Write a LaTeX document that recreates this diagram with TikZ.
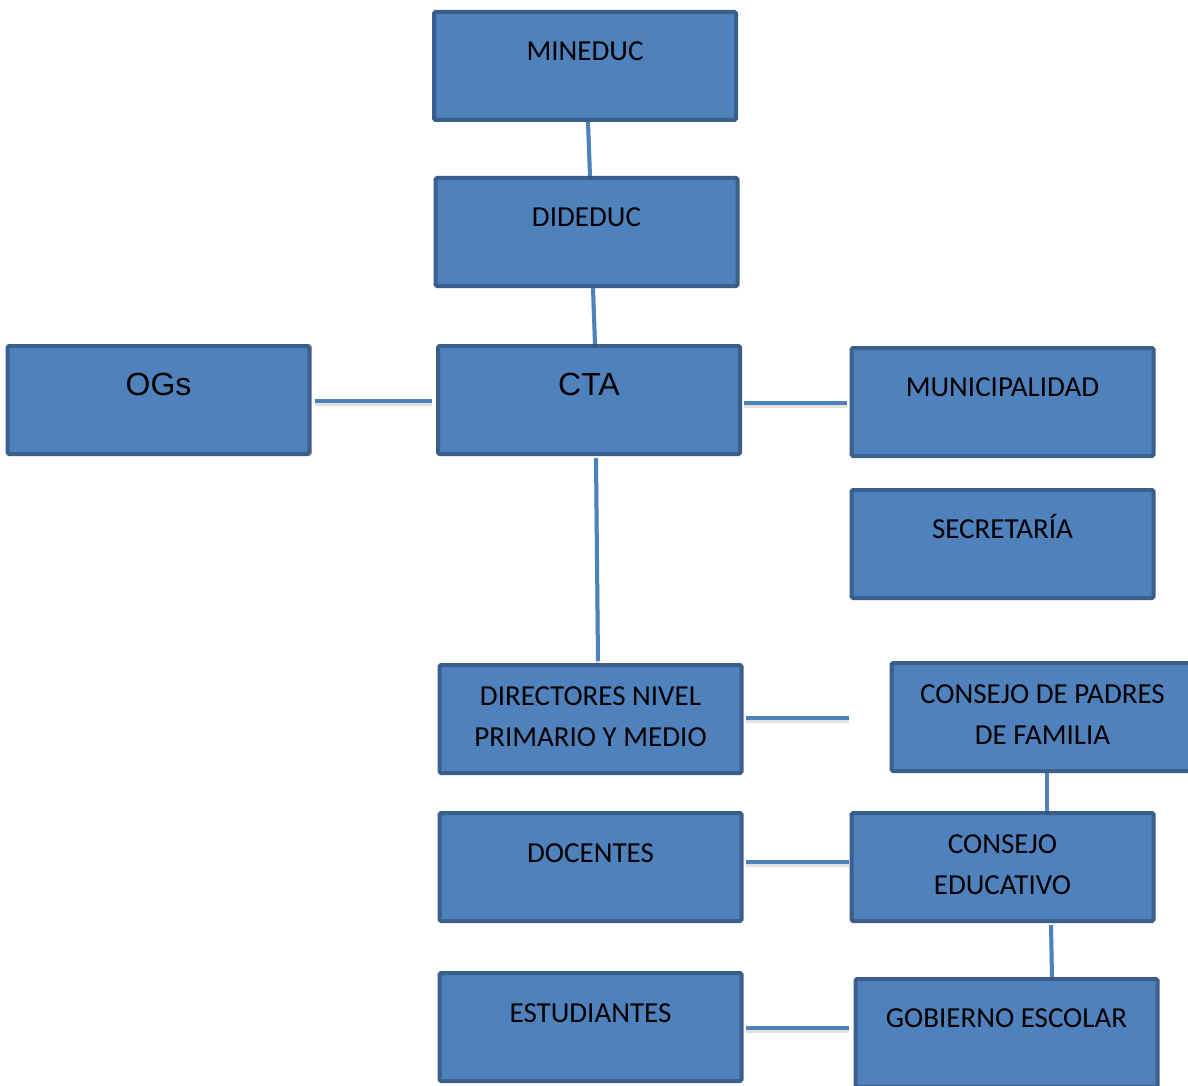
\documentclass[tikz,border=0pt]{standalone}
\usepackage{fontspec}
\setmainfont{Carlito}
\newfontfamily\arialfont{Liberation Sans}
\definecolor{boxfill}{HTML}{4F81BD}
\definecolor{boxline}{HTML}{3A5F8B}
\definecolor{lineblue}{HTML}{4F81BD}
\begin{document}
\begin{tikzpicture}[x=1pt,y=-1pt,
  box/.style={draw=boxline, fill=boxfill, line width=4pt, rounded corners=1.5pt,
    minimum width=302pt, minimum height=108pt, inner sep=0pt, outer sep=0pt},
  txt/.style={font=\fontsize{29}{41}\selectfont, align=center, inner sep=0pt, anchor=base, text=black},
  atxt/.style={font=\arialfont\fontsize{32}{40}\selectfont, inner sep=0pt, anchor=base, text=black},
  conn/.style={draw=lineblue, line width=4pt,
    preaction={draw=black, draw opacity=0.12, line width=4pt, transform canvas={yshift=-2.5pt}}}]
\useasboundingbox (0,0) rectangle (1188,1086);
\clip (0,0) rectangle (1188,1086);
% boxes
\node[box] (mineduc) at (585,66) {};
\node[box] (dideduc) at (586.5,232) {};
\node[box] (cta) at (589,400) {};
\node[box] (ogs) at (158.5,400) {};
\node[box] (muni) at (1002.5,402) {};
\node[box] (secre) at (1002.5,544) {};
\node[box] (direc) at (590.5,719) {};
\node[box] (padres) at (1042.5,717) {};
\node[box] (docen) at (590.5,867) {};
\node[box] (educ) at (1002.5,867) {};
\node[box] (estud) at (590.5,1027) {};
\node[box] (gob) at (1006.5,1033) {};
% texts
\node[txt] (t1) at ([yshift=-48.5pt]mineduc.north) {MINEDUC};
\node[txt] (t2) at ([yshift=-48.5pt]dideduc.north) {DIDEDUC};
\node[atxt] (t3) at ([yshift=-49.5pt]cta.north) {CTA};
\node[atxt] (t4) at ([yshift=-49.5pt]ogs.north) {OGs};
\node[txt] (t5) at ([yshift=-48.5pt]muni.north) {MUNICIPALIDAD};
\node[txt] (t6) at ([yshift=-48.5pt]secre.north) {SECRETARÍA};
\node[txt] (t7) at ([yshift=-81.5pt]direc.north) {DIRECTORES NIVEL\\PRIMARIO Y MEDIO};
\node[txt] (t8) at ([yshift=-81.5pt]padres.north) {CONSEJO DE PADRES\\DE FAMILIA};
\node[txt] (t9) at ([yshift=-49.5pt]docen.north) {DOCENTES};
\node[txt] (t10) at ([yshift=-81.5pt]educ.north) {CONSEJO\\EDUCATIVO};
\node[txt] (t11) at ([yshift=-49.5pt]estud.north) {ESTUDIANTES};
\node[txt] (t12) at ([yshift=-48.5pt]gob.north) {GOBIERNO ESCOLAR};
% connectors
\coordinate (pfree) at (849,718);
\draw[conn] ([xshift=3pt,yshift=-2pt]mineduc.south) -- ([xshift=3.5pt,yshift=2pt]dideduc.north);
\draw[conn] ([xshift=6.5pt,yshift=-2pt]dideduc.south) -- ([xshift=6pt,yshift=2pt]cta.north);
\draw[conn] ([xshift=5.5pt,yshift=-1pt]ogs.east) -- ([xshift=-6pt,yshift=-1pt]cta.west);
\draw[conn] ([xshift=4pt,yshift=-3pt]cta.east) -- ([xshift=-5pt,yshift=-1pt]muni.west);
\draw[conn] ([xshift=7pt,yshift=-4pt]cta.south) -- ([xshift=7.5pt,yshift=4pt]direc.north);
\draw[conn] ([xshift=4pt,yshift=1pt]direc.east) -- (pfree);
\draw[conn] ([xshift=4.5pt,yshift=-2pt]padres.south) -- ([xshift=44.5pt,yshift=2pt]educ.north);
\draw[conn] ([xshift=4pt,yshift=5pt]docen.east) -- ([xshift=-3pt,yshift=5pt]educ.west);
\draw[conn] ([xshift=48.5pt,yshift=-4pt]educ.south) -- ([xshift=45.5pt,yshift=2pt]gob.north);
\draw[conn] ([xshift=4pt,yshift=-1pt]estud.east) -- ([xshift=-7pt,yshift=5pt]gob.west);
\end{tikzpicture}
\end{document}
